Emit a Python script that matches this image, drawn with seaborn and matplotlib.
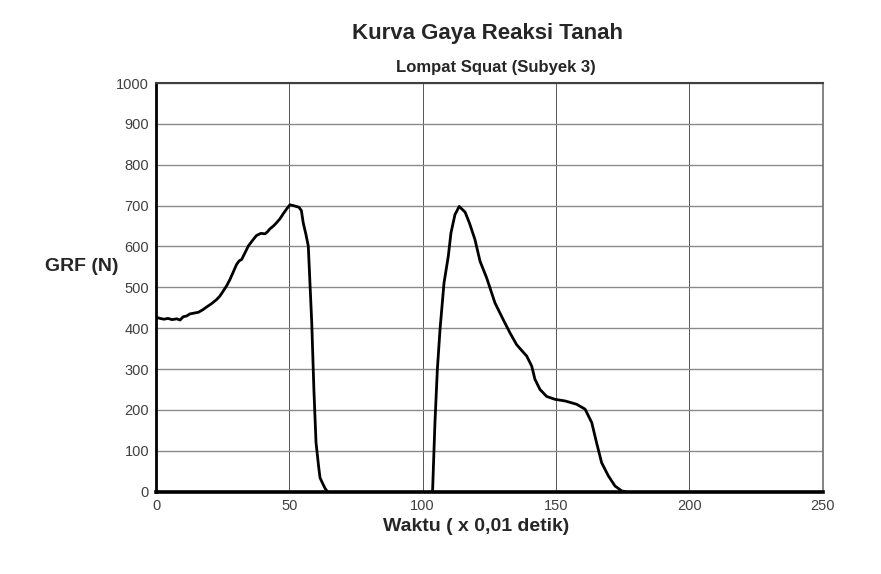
import matplotlib
matplotlib.use("Agg")
import matplotlib.pyplot as plt
import seaborn as sns
import numpy as np
import pandas as pd

# waktu (x 0,01 detik) and GRF (N)
# fase 1: tolakan, fase 2: pendaratan
waktu_1 = [0, 1.5, 3, 4.5, 6, 7.8, 9, 10.2, 11.5, 12.7, 14.3, 15.9, 17.5, 19.0, 20.8,
           22.7, 24, 25.2, 26.5, 27.7, 29, 30.2, 31.2, 32.1, 33.4, 34.6, 36.2, 37.7,
           39.3, 40.9, 41.8, 42.7, 44, 45.2, 46.5, 47.7, 49, 50.2, 51.5, 53.6, 54.5,
           55.2, 56.2, 57.1, 58.4, 59.2, 60.0, 61.0, 61.5, 62.5, 63.4, 64.3]
grf_1 = [427, 424, 422, 424, 421, 423, 420, 428, 430, 435, 437, 439, 445, 452, 460,
         470, 479, 491, 504, 519, 538, 556, 565, 568, 585, 601, 615, 627, 632, 631,
         636, 643, 650, 658, 668, 680, 692, 702, 700, 696, 688,
         658, 630, 601, 413, 250, 120, 60, 34, 20, 8, 0]
waktu_2 = [103.7, 104.6, 105.5, 106.5, 108.0, 109.6, 110.6, 112.1, 113.7, 115.9,
           117.5, 119.6, 121.5, 124.0, 127.1, 130.2, 132.7, 135.2, 137.2, 139.0,
           140.9, 142.1, 144.0, 146.5, 149.6, 153.4, 157.7, 160.9, 163.4, 165.2,
           167.1, 169.6, 172.1, 174.6, 176.0]
grf_2 = [0, 169, 299, 397, 511, 576, 633, 678, 698, 684,
         658, 617, 564, 523, 462, 421, 389, 360, 345, 332,
         307, 275, 250, 233, 226, 222, 214, 202, 169, 120,
         71, 39, 14, 2, 0]

df = pd.DataFrame({
    "waktu": waktu_1 + waktu_2,
    "grf": grf_1 + grf_2,
    "fase": [1] * len(waktu_1) + [2] * len(waktu_2),
})

sns.set_style("white")
plt.rcParams['font.family'] = ['Liberation Sans', 'DejaVu Sans']

fig = plt.figure(figsize=(8.81, 5.74), dpi=100)
ax = fig.add_axes([0.1771, 0.1434, 0.7567, 0.712])

sns.lineplot(data=df, x="waktu", y="grf", units="fase", sort=False, estimator=None,
             color="black", linewidth=2.0, ax=ax)

ax.set_xlim(0, 250)
ax.set_ylim(0, 1000)
ax.set_xticks(np.arange(0, 251, 50))
ax.set_yticks(np.arange(0, 1001, 100))
ax.xaxis.grid(True, color="#555555", linewidth=0.7)
ax.yaxis.grid(True, color="#8a8a8a", linewidth=1.0)
ax.set_axisbelow(True)
ax.tick_params(length=0, labelsize=10.5, labelcolor="#404040", pad=5)
ax.set_xlabel("")
ax.set_ylabel("")

for side, lw, col in [("left", 2.0, "black"), ("bottom", 2.6, "black"),
                      ("top", 1.5, "#404040"), ("right", 1.2, "#707070")]:
    ax.spines[side].set_visible(True)
    ax.spines[side].set_linewidth(lw)
    ax.spines[side].set_color(col)

fig.text(0.553, 0.942, "Kurva Gaya Reaksi Tanah", ha="center", va="center",
         fontsize=16, fontweight="bold")
fig.text(0.563, 0.883, "Lompat Squat (Subyek 3)", ha="center", va="center",
         fontsize=12, fontweight="bold")
fig.text(0.093, 0.535, "GRF (N)", ha="center", va="center",
         fontsize=14, fontweight="bold")
fig.text(0.541, 0.0836, "Waktu ( x 0,01 detik)", ha="center", va="center",
         fontsize=14, fontweight="bold")

fig.savefig("out.png", dpi=100)
